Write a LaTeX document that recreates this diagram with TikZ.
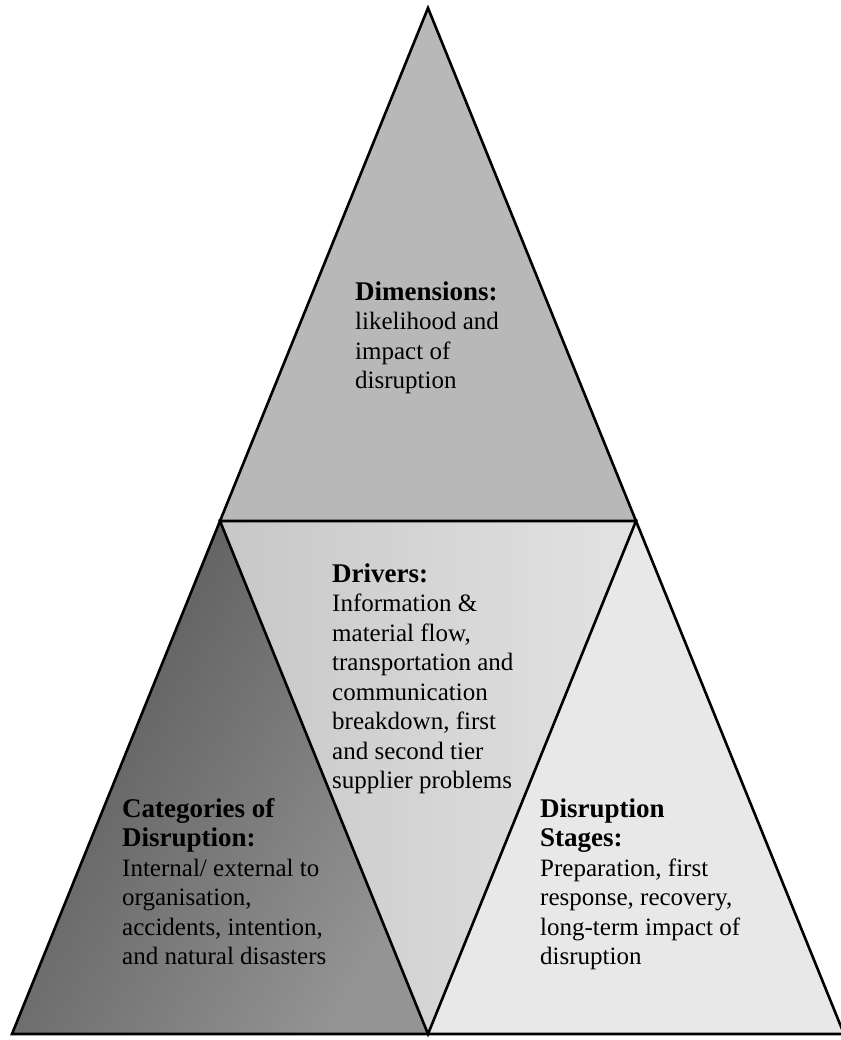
\documentclass[tikz,border=0pt]{standalone}
\usepackage{fontspec}
\setmainfont{Liberation Serif}
\newcommand\hd[1]{{\fontsize{27}{29.5}\selectfont\bfseries #1}}
\begin{document}
\begin{tikzpicture}[x=1pt,y=-1pt,
  edge/.style={draw=black, line width=2.6pt, line join=miter},
  blocktext/.style={anchor=base west, inner sep=0pt, font=\fontsize{25}{29.5}\selectfont},
  topfill/.style={fill=black!28},
  leftfill/.style={left color=black!66, right color=black!42, shading angle=60},
  midfill/.style={left color=black!22, right color=black!11},
  rightfill/.style={fill=black!9},
]
\useasboundingbox (0,0) rectangle (840,1040);

% corners of the large triangle and the midpoints of its sides
\coordinate (A)  at (428,8);
\coordinate (B)  at (12,1034);
\coordinate (C)  at (844,1034);
\coordinate (AB) at (220,521);
\coordinate (AC) at (636,521);
\coordinate (BC) at (428,1034);

% the four sub-triangles
\fill[topfill]   (A)  -- (AB) -- (AC) -- cycle;
\shade[leftfill] (AB) -- (B)  -- (BC) -- cycle;
\shade[midfill]  (AB) -- (AC) -- (BC) -- cycle;
\fill[rightfill] (AC) -- (BC) -- (C)  -- cycle;

% outlines
\draw[edge] (A) -- (B) -- (C) -- cycle;
\draw[edge] (AB) -- (AC) -- (BC) -- cycle;

% labels
\node[blocktext] (dimensions) at (355,300) {\begin{tabular}[t]{@{}l@{}}
  \hd{Dimensions:}\\
  likelihood and\\
  impact of\\
  disruption
\end{tabular}};

\node[blocktext] (drivers) at (332,582) {\begin{tabular}[t]{@{}l@{}}
  \hd{Drivers:}\\
  Information \&\\
  material flow,\\
  transportation and\\
  communication\\
  breakdown, first\\
  and second tier\\
  supplier problems
\end{tabular}};

\node[blocktext] (categories) at (122,817) {\begin{tabular}[t]{@{}l@{}}
  \hd{Categories of}\\
  \hd{Disruption:}\\
  Internal/ external to\\
  organisation,\\
  accidents, intention,\\
  and natural disasters
\end{tabular}};

\node[blocktext] (stages) at (540,817) {\begin{tabular}[t]{@{}l@{}}
  \hd{Disruption}\\
  \hd{Stages:}\\
  Preparation, first\\
  response, recovery,\\
  long-term impact of\\
  disruption
\end{tabular}};
\end{tikzpicture}
\end{document}
